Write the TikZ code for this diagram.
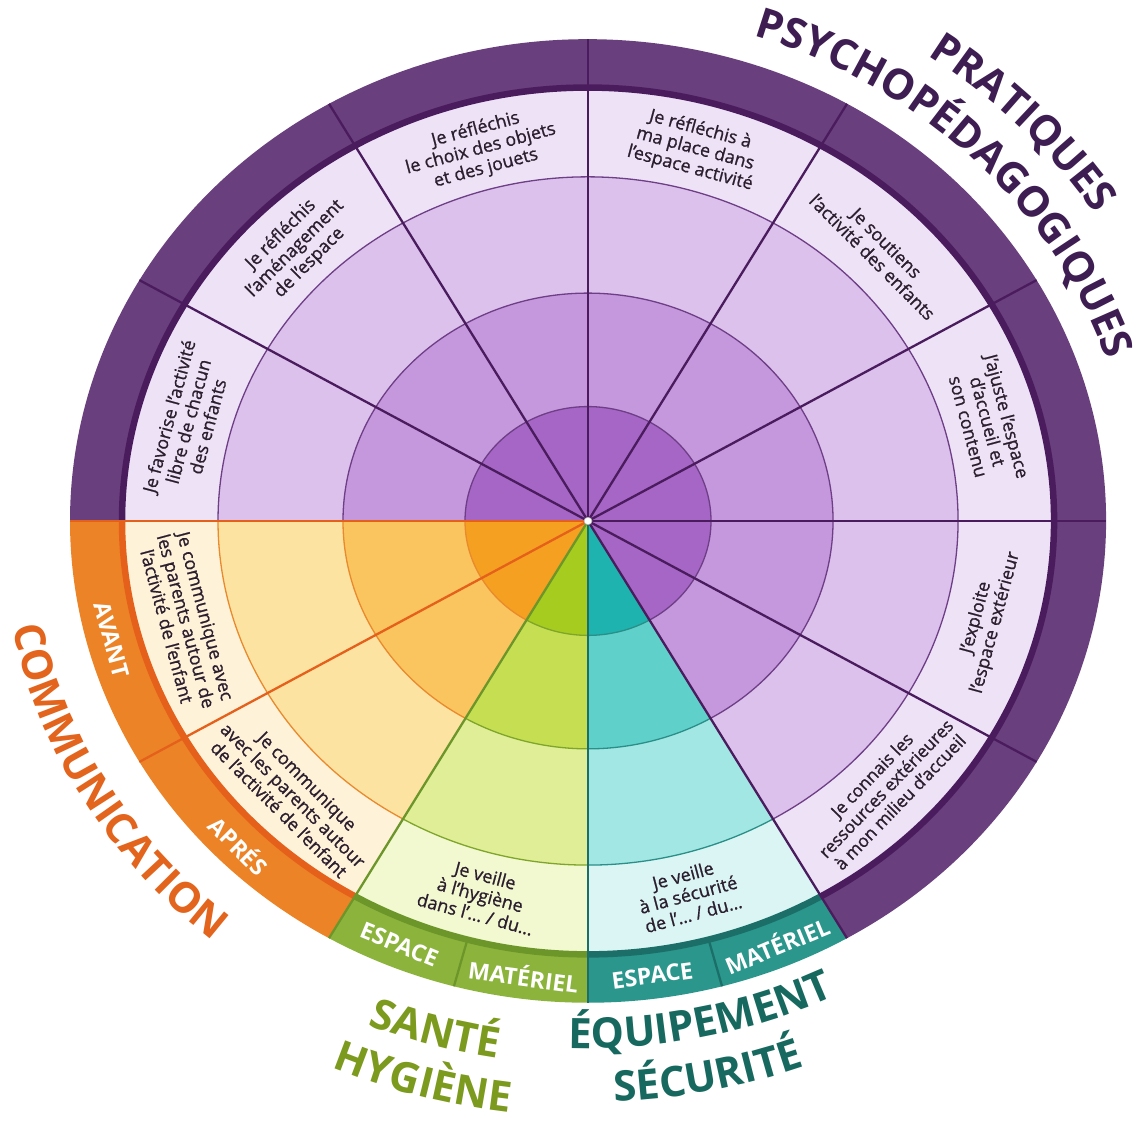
\documentclass[tikz,border=0pt]{standalone}
\usepackage{fontspec}
\setmainfont{Open Sans}
\newfontfamily\wfont{Open Sans}[FakeBold=1]
\usetikzlibrary{decorations.text}

\definecolor{pBand}{HTML}{6A3F7E}
\definecolor{pLine}{HTML}{4A1C5E}
\definecolor{pRing}{HTML}{6E3E86}
\definecolor{pT}{HTML}{EEE2F6}
\definecolor{pC}{HTML}{DCC1EC}
\definecolor{pB}{HTML}{C597DD}
\definecolor{pA}{HTML}{A666C6}
\definecolor{oBand}{HTML}{EC8326}
\definecolor{oLine}{HTML}{E4601B}
\definecolor{oRing}{HTML}{E98A2C}
\definecolor{oT}{HTML}{FEF2D9}
\definecolor{oC}{HTML}{FDE3A2}
\definecolor{oB}{HTML}{FAC45E}
\definecolor{oA}{HTML}{F5A020}
\definecolor{gBand}{HTML}{8CB43C}
\definecolor{gLine}{HTML}{6C962A}
\definecolor{gRing}{HTML}{7FA52A}
\definecolor{gT}{HTML}{F2F8D0}
\definecolor{gC}{HTML}{E0EE98}
\definecolor{gB}{HTML}{C6DF52}
\definecolor{gA}{HTML}{A5CC1E}
\definecolor{tBand}{HTML}{2A968C}
\definecolor{tLine}{HTML}{1C6F68}
\definecolor{tRing}{HTML}{2A8F88}
\definecolor{tT}{HTML}{DAF5F4}
\definecolor{tC}{HTML}{A3E7E4}
\definecolor{tB}{HTML}{60D0CB}
\definecolor{tA}{HTML}{1EB3AE}
\definecolor{pTitle}{HTML}{3E1D52}
\definecolor{oTitle}{HTML}{E3641C}
\definecolor{gTitle}{HTML}{7C9A1E}
\definecolor{tTitle}{HTML}{17695F}
\definecolor{txt}{HTML}{2B1E2E}

\newcommand\ttl{\fontsize{42}{42}\selectfont\bfseries}

% #1 a1, #2 a2, #3 band, #4 text ring, #5 ring3, #6 ring2, #7 disc, #8 ring line, #9 thick line
\newcommand\wheelsector[9]{%
  \fill[#3] (0,0) -- (#1:518) arc[start angle=#1,end angle=#2,radius=518] -- cycle;
  \fill[#4] (0,0) -- (#1:466) arc[start angle=#1,end angle=#2,radius=466] -- cycle;
  \fill[#5] (0,0) -- (#1:370) arc[start angle=#1,end angle=#2,radius=370] -- cycle;
  \fill[#6] (0,0) -- (#1:245) arc[start angle=#1,end angle=#2,radius=245] -- cycle;
  \fill[#7] (0,0) -- (#1:123) arc[start angle=#1,end angle=#2,radius=123] -- cycle;
  \draw[#8,line width=1.3] (#1:123) arc[start angle=#1,end angle=#2,radius=123];
  \draw[#8,line width=1.3] (#1:245) arc[start angle=#1,end angle=#2,radius=245];
  \draw[#8,line width=1.3] (#1:370) arc[start angle=#1,end angle=#2,radius=370];
  \draw[#9,line width=6.5] (#1:466) arc[start angle=#1,end angle=#2,radius=466];
}

% #1 baseline radius, #2 start angle, #3 end angle, #4 colour, #5 text
\newcommand\arctext[5]{%
  \path[decorate,decoration={text along path,text align=center,text color=#4,text={|\ttl|#5}}]
    ({#1*cos(#2)},{0.93*#1*sin(#2)}) arc[start angle=#2,end angle=#3,x radius=#1,y radius={0.93*#1}];
}

\tikzset{
  wt/.style={font=\wfont\fontsize{18}{20}\selectfont,align=center,text=txt,inner sep=0pt},
  bt/.style={font=\fontsize{23}{23}\selectfont\bfseries,text=white,inner sep=0pt},
  spoke/.style={line width=2.3}
}

\begin{document}
\begin{tikzpicture}[x=1pt,y=1pt]
\useasboundingbox (0,0) rectangle (1140,1122);
\fill[white] (0,0) rectangle (1140,1122);

\begin{scope}[shift={(588,601)},yscale=0.93]
  \wheelsector{-60}{180}{pBand}{pT}{pC}{pB}{pA}{pRing}{pLine}
  \wheelsector{180}{240}{oBand}{oT}{oC}{oB}{oA}{oRing}{oLine}
  \wheelsector{240}{270}{gBand}{gT}{gC}{gB}{gA}{gRing}{gLine}
  \wheelsector{270}{300}{tBand}{tT}{tC}{tB}{tA}{tRing}{tLine}

  \coordinate (c) at (0,0);
  \foreach \a in {150,120,90,60,30,0,-30,-60}
    \draw[spoke,pLine] (c) -- (\a:518);
  \draw[spoke,gLine] (c) -- (240:518);
  \draw[spoke,tLine] (c) -- (270:518);
  \draw[spoke,oLine] (c) -- (210:518);
  \draw[spoke,oLine] (c) -- (180:518);
  \draw[spoke,gLine] (255:466) -- (255:518);
  \draw[spoke,tLine] (285:466) -- (285:518);
  \fill[white] (c) circle[radius=4];
  \draw[gray!60,line width=0.6] (c) circle[radius=4];

  \node[wt,rotate=75]  (w1)  at (165:414) {Je favorise l’activité\\libre de chacun\\des enfants};
  \node[wt,rotate=45]  (w2)  at (135:414) {Je réfléchis\\l’aménagement\\de l’espace};
  \node[wt,rotate=15]  (w3)  at (105:414) {Je réfléchis\\le choix des objets\\et des jouets};
  \node[wt,rotate=-15] (w4)  at (75:414)  {Je réfléchis à\\ma place dans\\l’espace activité};
  \node[wt,rotate=-45] (w5)  at (45:412)  {Je soutiens\\l’activité des enfants};
  \node[wt,rotate=-75] (w6)  at (15:414)  {J’ajuste l’espace\\d’accueil et\\son contenu};
  \node[wt,rotate=75]  (w7)  at (-15:412) {J’exploite\\l’espace extérieur};
  \node[wt,rotate=46,font=\wfont\fontsize{17.5}{19.5}\selectfont] (w8) at (-44:414) {Je connais les\\ressources extérieures\\à mon milieu d’accueil};
  \node[wt,rotate=-75] (w9)  at (195:416) {Je communique avec\\les parents autour de\\l’activité de l’enfant};
  \node[wt,rotate=-45] (w10) at (225:417) {Je communique\\avec les parents autour\\de l’activité de l’enfant};
  \node[wt,rotate=-15] (w11) at (255:416) {Je veille\\à l’hygiène\\dans l’… / du…};
  \node[wt,rotate=15]  (w12) at (284:414) {Je veille\\à la sécurité\\de l’… / du…};

  \node[bt,rotate=-75]   (b1) at (195:493)   {AVANT};
  \node[bt,rotate=-45]   (b2) at (225:493)   {APRÉS};
  \node[bt,rotate=-22.5] (b3) at (247.5:493) {ESPACE};
  \node[bt,rotate=-7.5]  (b4) at (262.5:493) {MATÉRIEL};
  \node[bt,rotate=7.5]   (b5) at (277.5:493) {ESPACE};
  \node[bt,rotate=22.5]  (b6) at (292.5:493) {MATÉRIEL};
\end{scope}

\begin{scope}[shift={(588,601)}]
  \arctext{547}{85}{5}{pTitle}{PSYCHOPÉDAGOGIQUES}
  \arctext{605}{74}{14}{pTitle}{PRATIQUES}
  \arctext{587}{180}{241}{oTitle}{COMMUNICATION}
  \arctext{585}{234.4}{274.4}{gTitle}{SANTÉ}
  \arctext{641}{234.6}{274.6}{gTitle}{HYGIÈNE}
  \arctext{567}{257}{307}{tTitle}{ÉQUIPEMENT}
  \arctext{625}{256.5}{306.5}{tTitle}{SÉCURITÉ}
\end{scope}
\end{tikzpicture}
\end{document}
